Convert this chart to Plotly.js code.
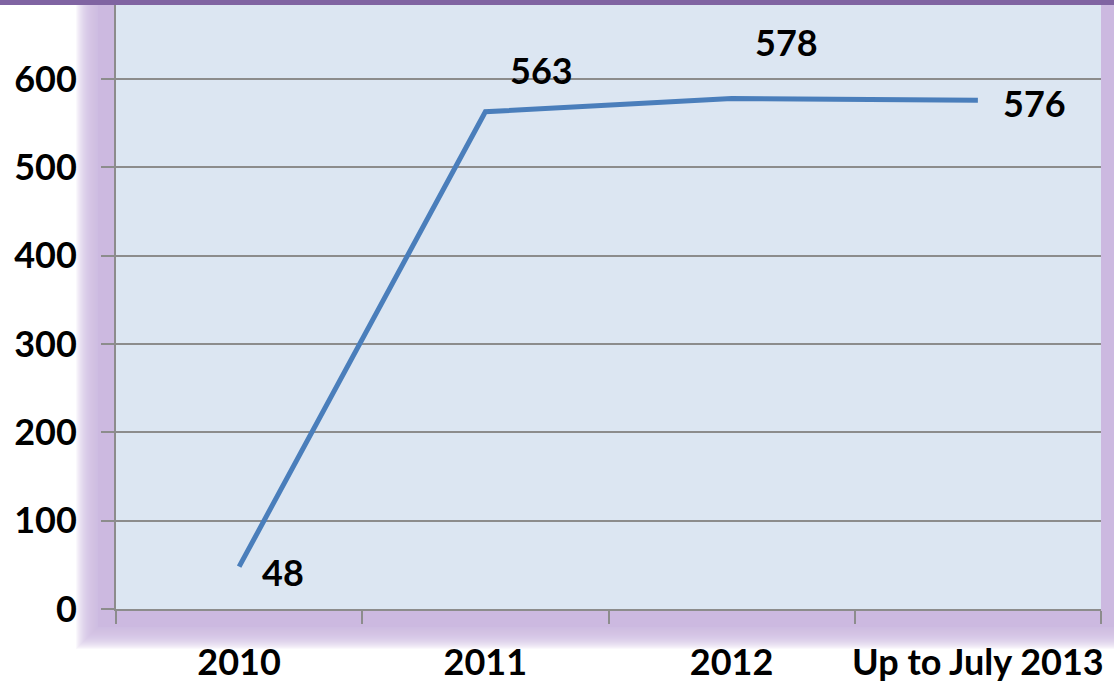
<!DOCTYPE html>
<html>
<head>
<meta charset="utf-8">
<script src="https://cdn.plot.ly/plotly-3.0.1.min.js"></script>
<style>html,body{margin:0;padding:0;background:#fff;}#chart{width:1114px;height:688px;}</style>
</head>
<body>
<div id="chart"></div>
<script>
const categories = ['2010', '2011', '2012', 'Up to July 2013'];
const values = [48, 563, 578, 576];
const yTicks = [0, 100, 200, 300, 400, 500, 600];
const labelShiftX = [44, 56, 55, 57];
const labelShiftY = [-5, 42, 56, -3];

const W = 1114, H = 688, L = 116, R = 13, T = 0, B = 79;
const pw = W - L - R, ph = H - T - B;
const px = v => (v - L) / pw;
const py = v => (H - B - v) / ph;

const shapes = [];
// soft glow around plot area
for (let g = 22; g >= 1; g -= 1) {
  shapes.push({type: 'rect', xref: 'paper', yref: 'paper', layer: 'below',
    x0: px(L - 18 - g), x1: px(W + 10), y0: py(H - B + 18 + g), y1: py(-10),
    fillcolor: '#CCB9E0', opacity: 0.1, line: {width: 0}});
}
shapes.push({type: 'rect', xref: 'paper', yref: 'paper', layer: 'below',
  x0: px(L - 18), x1: px(W + 10), y0: py(H - B + 18), y1: py(-10),
  fillcolor: '#CCB9E0', line: {width: 0}});
shapes.push({type: 'rect', xref: 'paper', yref: 'paper', layer: 'below',
  x0: 0, x1: 1, y0: 0, y1: 1, fillcolor: '#DCE6F2', line: {width: 0}});
shapes.push({type: 'rect', xref: 'paper', yref: 'paper', layer: 'above',
  x0: px(0), x1: px(W), y0: py(5), y1: py(-2), fillcolor: '#8064A2', line: {width: 0}});

const FONT = 'Lato, "Open Sans", sans-serif';
const annotations = categories.map((c, i) => ({
  x: i, y: values[i], xref: 'x', yref: 'y', text: String(values[i]), showarrow: false,
  xshift: labelShiftX[i], yshift: labelShiftY[i],
  font: {family: FONT, size: 36, color: '#000', weight: 700}
}));

const trace = {
  x: categories, y: values, type: 'scatter', mode: 'lines',
  line: {color: '#4A7EBB', width: 5}, hoverinfo: 'skip'
};

const layout = {
  width: W, height: H,
  margin: {l: L, r: R, t: T, b: B, pad: 0},
  paper_bgcolor: 'rgba(0,0,0,0)', plot_bgcolor: 'rgba(0,0,0,0)',
  showlegend: false,
  font: {family: FONT, size: 36, color: '#000', weight: 700},
  xaxis: {
    type: 'category', tickson: 'boundaries', ticks: 'outside', ticklen: 13, tickwidth: 2,
    tickcolor: '#8C8C8C', showline: true, linecolor: '#8C8C8C', linewidth: 2,
    showgrid: false, zeroline: false, range: [-0.5, 3.5], tickangle: 0, automargin: false,
    tickfont: {family: FONT, size: 36, color: '#000', weight: 700},
    ticklabelstandoff: 21
  },
  yaxis: {
    range: [0, 689.5], tickvals: yTicks, ticktext: yTicks.map(String),
    ticks: 'outside', ticklen: 13, tickwidth: 2, tickcolor: '#8C8C8C',
    showline: true, linecolor: '#8C8C8C', linewidth: 2, automargin: false,
    showgrid: true, gridcolor: '#8C8C8C', gridwidth: 2, zeroline: false,
    tickfont: {family: FONT, size: 36, color: '#000', weight: 700},
    ticklabelstandoff: 17
  },
  shapes: shapes,
  annotations: annotations
};

Plotly.newPlot('chart', [trace], layout, {displayModeBar: false, staticPlot: true});
</script>
</body>
</html>
